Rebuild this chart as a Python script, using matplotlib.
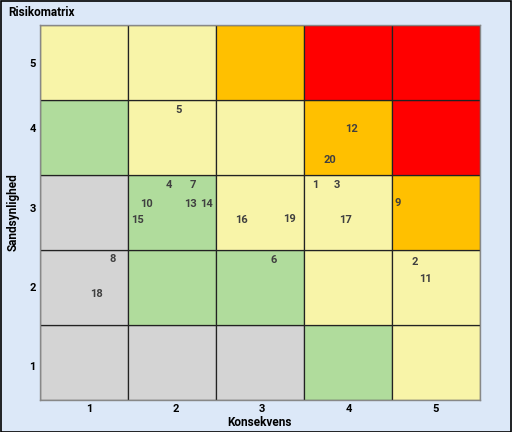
import matplotlib

matplotlib.use("Agg")
import matplotlib.pyplot as plt  # noqa: E402
from matplotlib.patches import Rectangle  # noqa: E402

plt.rcParams["font.family"] = ["Roboto", "DejaVu Sans"]

# cell colour class per row (likelihood 1..5, bottom -> top), columns = consequence 1..5
LEVELS = {
    1: ["g", "g", "g", "G", "y"],
    2: ["g", "G", "G", "y", "y"],
    3: ["g", "G", "y", "y", "o"],
    4: ["G", "y", "y", "o", "r"],
    5: ["y", "y", "o", "r", "r"],
}
COLORS = {"g": "#d4d4d4", "G": "#b0dc9c", "y": "#f8f4a8", "o": "#ffc000", "r": "#ff0000"}

# risk ids and their placement (consequence, likelihood)
risk_ids = ["1", "2", "3", "4", "5", "6", "7", "8", "9", "10",
            "11", "12", "13", "14", "15", "16", "17", "18", "19", "20"]
risk_x = [3.63, 4.76, 3.87, 1.97, 2.07, 3.15, 2.24, 1.33, 4.57, 1.71,
          4.88, 4.04, 2.21, 2.39, 1.61, 2.79, 3.97, 1.14, 3.33, 3.80]
risk_y = [3.36, 2.34, 3.36, 3.36, 4.37, 2.37, 3.37, 2.38, 3.12, 3.11,
          2.12, 4.11, 3.11, 3.11, 2.90, 2.90, 2.90, 1.91, 2.91, 3.70]

tick_labels = ["1", "2", "3", "4", "5"]
# label anchors as drawn in the source (slightly off the cell centres)
xtick_pos = [1.06, 2.045, 3.02, 4.01, 4.99]
ytick_pos = [0.95, 2.01, 3.06, 4.13, 4.99]
BG = "#dce8f8"
TXT = "#404040"

fig = plt.figure(figsize=(5.12, 4.32), dpi=100, facecolor=BG)
ax = fig.add_axes([40 / 512, 1 - 400 / 432, 440 / 512, 375 / 432])

for row, cols in LEVELS.items():
    for col, key in enumerate(cols, start=1):
        ax.add_patch(Rectangle((col - 0.5, row - 0.5), 1, 1, facecolor=COLORS[key],
                               edgecolor="#222222", linewidth=0.9))

for rid, x, y in zip(risk_ids, risk_x, risk_y):
    ax.text(x, y, rid, ha="center", va="center", fontsize=8, fontweight="bold", color=TXT)

ax.set_xlim(0.5, 5.5)
ax.set_ylim(0.5, 5.5)
ax.set_xticks(xtick_pos)
ax.set_yticks(ytick_pos)
ax.set_xticklabels(tick_labels, fontsize=8, fontweight="bold")
ax.set_yticklabels(tick_labels, fontsize=8, fontweight="bold")
ax.tick_params(length=0, pad=3)
for s in ax.spines.values():
    s.set_color("#888888")
    s.set_linewidth(1)

ax.set_xlabel("Konsekvens", fontsize=8.5, fontweight="bold", labelpad=1)
ax.set_ylabel("Sandsynlighed", fontsize=8.5, fontweight="bold", labelpad=7)

fig.text(8 / 512, 1 - 13 / 432, "Risikomatrix", fontsize=8.5, fontweight="bold",
         ha="left", va="center")
fig.patches.append(Rectangle((0.001, 0.001), 0.997, 0.997, transform=fig.transFigure,
                             fill=False, edgecolor="black", linewidth=1.2))

fig.savefig("out.png", dpi=100, facecolor=BG)
